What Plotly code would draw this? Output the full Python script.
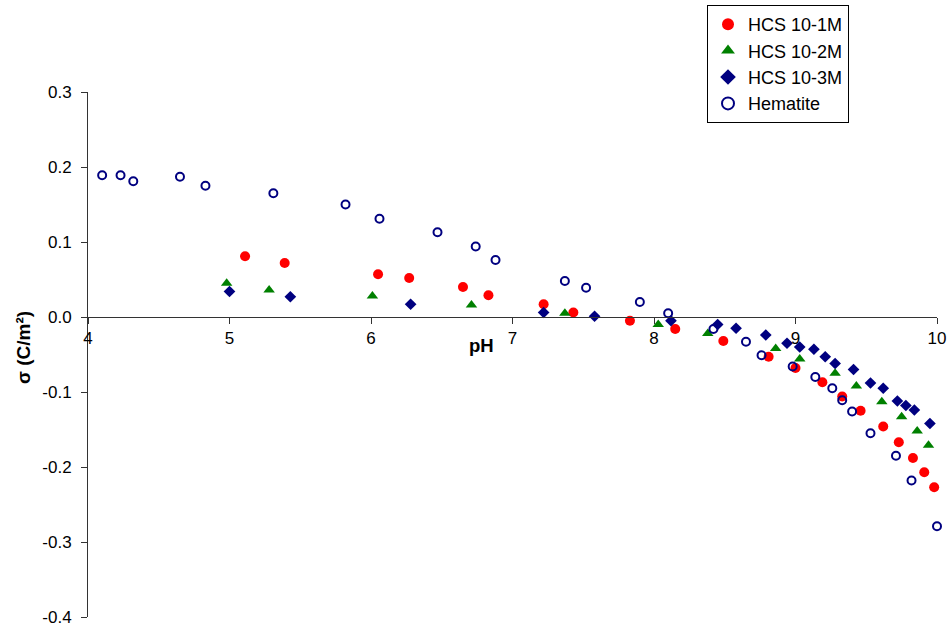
import plotly.graph_objects as go

# HCS 10-1M (red filled circles)
ph_1m = [5.11, 5.39, 6.05, 6.27, 6.65, 6.83, 7.22, 7.43, 7.83, 8.15, 8.49, 8.81, 9.00, 9.19, 9.33, 9.46, 9.62, 9.73, 9.83, 9.91, 9.98]
s_1m = [0.081, 0.072, 0.057, 0.052, 0.040, 0.029, 0.017, 0.006, -0.005, -0.016, -0.032, -0.053, -0.068, -0.087, -0.106, -0.125, -0.146, -0.167, -0.188, -0.207, -0.227]

# HCS 10-2M (green triangles)
ph_2m = [4.98, 5.28, 6.01, 6.71, 7.37, 8.03, 8.38, 8.86, 9.03, 9.28, 9.43, 9.61, 9.75, 9.86, 9.94]
s_2m = [0.045, 0.036, 0.028, 0.016, 0.005, -0.010, -0.022, -0.042, -0.056, -0.075, -0.092, -0.113, -0.133, -0.152, -0.171]

# HCS 10-3M (navy diamonds)
ph_3m = [5.00, 5.43, 6.28, 7.22, 7.58, 8.12, 8.45, 8.58, 8.79, 8.94, 9.03, 9.13, 9.21, 9.28, 9.41, 9.53, 9.62, 9.72, 9.78, 9.84, 9.95]
s_3m = [0.034, 0.027, 0.017, 0.006, 0.001, -0.005, -0.010, -0.015, -0.024, -0.035, -0.040, -0.043, -0.053, -0.062, -0.070, -0.088, -0.095, -0.112, -0.118, -0.124, -0.142]

# Hematite (open circles)
ph_hem = [4.10, 4.23, 4.32, 4.65, 4.83, 5.31, 5.82, 6.06, 6.47, 6.74, 6.88, 7.37, 7.52, 7.90, 8.10, 8.42, 8.65, 8.76, 8.98, 9.14, 9.26, 9.33, 9.40, 9.53, 9.71, 9.82, 10.00]
s_hem = [0.189, 0.189, 0.181, 0.187, 0.175, 0.165, 0.150, 0.131, 0.113, 0.094, 0.076, 0.048, 0.039, 0.020, 0.005, -0.016, -0.033, -0.051, -0.066, -0.080, -0.095, -0.111, -0.126, -0.155, -0.185, -0.218, -0.279]

x_ticks = [4, 5, 6, 7, 8, 9, 10]
y_ticks = [0.3, 0.2, 0.1, 0.0, -0.1, -0.2, -0.3, -0.4]
y_ticktext = ["0.3", "0.2", "0.1", "0.0", "-0.1", "-0.2", "-0.3", "-0.4"]

FONT = "Liberation Sans, Arial, sans-serif"
AXC = "#333333"

fig = go.Figure()
fig.add_trace(go.Scatter(x=ph_1m, y=s_1m, mode="markers", name="HCS 10-1M",
                         marker=dict(symbol="circle", size=10, color="#FF0000"), cliponaxis=False))
fig.add_trace(go.Scatter(x=ph_2m, y=s_2m, mode="markers", name="HCS 10-2M",
                         marker=dict(symbol="triangle-up", size=10, color="#008000"), cliponaxis=False))
fig.add_trace(go.Scatter(x=ph_3m, y=s_3m, mode="markers", name="HCS 10-3M",
                         marker=dict(symbol="diamond", size=9, color="#000080"), cliponaxis=False))
fig.add_trace(go.Scatter(x=ph_hem, y=s_hem, mode="markers", name="Hematite",
                         marker=dict(symbol="circle-open", size=8, color="#000080",
                                     line=dict(width=2, color="#000080")), cliponaxis=False))

ymin, ymax = -0.4, 0.3
xpos = (0 - ymin) / (ymax - ymin)

fig.update_layout(
    width=947, height=626,
    margin=dict(l=88, r=10, t=92, b=9, autoexpand=False),
    plot_bgcolor="white", paper_bgcolor="white",
    font=dict(family=FONT, size=17, color="black"),
    showlegend=True,
    legend=dict(x=(707 - 88) / 849, y=(617 - 5) / 525, xanchor="left", yanchor="top",
                bordercolor="black", borderwidth=1, bgcolor="white",
                font=dict(family=FONT, size=18, color="black"),
                itemsizing="constant", tracegroupgap=0),
    xaxis=dict(range=[4, 10], tickvals=x_ticks, ticks="outside", ticklen=6,
               tickcolor=AXC, showline=True, linecolor=AXC, linewidth=1,
               showgrid=False, zeroline=False, anchor="free", position=xpos,
               automargin=False, ticklabeloverflow="allow",
               tickfont=dict(family=FONT, size=17, color="black")),
    yaxis=dict(range=[ymin, ymax], tickvals=y_ticks, ticktext=y_ticktext,
               ticks="outside", ticklen=6, tickcolor=AXC,
               showline=True, linecolor=AXC, linewidth=1,
               showgrid=False, zeroline=False, automargin=False,
               ticklabelstandoff=6, ticklabeloverflow="allow",
               tickfont=dict(family=FONT, size=17, color="black")),
    annotations=[
        dict(text="<b>pH</b>", x=6.78, y=0, xref="x", yref="y",
             yshift=-28, showarrow=False,
             font=dict(family=FONT, size=18.5, color="black")),
        dict(text="<b>σ (C/m²)</b>", x=(23 - 88) / 849, y=(617 - 348) / 525,
             xref="paper", yref="paper", textangle=-90, showarrow=False,
             xanchor="center", yanchor="middle",
             font=dict(family=FONT, size=19, color="black")),
    ],
)

fig.write_html("out.html", config={"displayModeBar": False},
               post_script="document.body.style.margin='0';document.body.style.overflow='hidden';")
